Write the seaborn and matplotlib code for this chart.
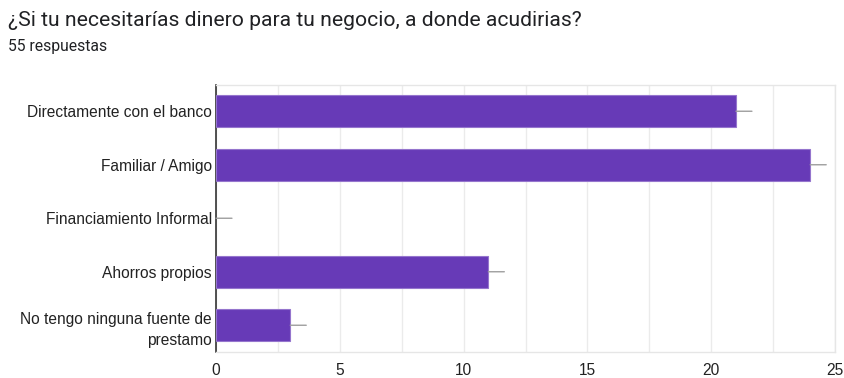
import matplotlib
matplotlib.use("Agg")
import matplotlib.pyplot as plt
import seaborn as sns
import pandas as pd

categories = ["Directamente con el banco", "Familiar / Amigo", "Financiamiento Informal",
              "Ahorros propios", "No tengo ninguna fuente de\nprestamo"]
counts = [21, 24, 0, 11, 3]
x_ticks = [0, 5, 10, 15, 20, 25]
title = "¿Si tu necesitarías dinero para tu negocio, a donde acudirias?"
subtitle = "55 respuestas"

sns.set_theme(style="white")
plt.rcParams["font.family"] = ["Liberation Sans", "DejaVu Sans"]

df = pd.DataFrame({"cat": categories, "n": counts})

fig = plt.figure(figsize=(8.44, 3.78), dpi=100)
ax = fig.add_axes([216/844, 1-352/378, (835-216)/844, (352-84.5)/378])

sns.barplot(data=df, x="n", y="cat", orient="h", color="#673ab7", saturation=1,
            width=0.6, edgecolor="#9575cd", linewidth=0.8, ax=ax, zorder=3)
for p in ax.patches:
    if p.get_width() == 0:
        p.set_linewidth(0)

for i, v in enumerate(counts):
    ax.annotate("", xy=(v, i), xytext=(11.5, 0), textcoords="offset points",
                arrowprops=dict(arrowstyle="-", color="#9e9e9e", lw=1.0,
                                shrinkA=0, shrinkB=0), zorder=4)

ax.set_xlim(0, 25)
ax.set_ylim(4.5, -0.5)
ax.set_xticks(x_ticks)
ax.set_xticklabels([str(t) for t in x_ticks])
ax.set_xticks([2.5, 7.5, 12.5, 17.5, 22.5], minor=True)
ax.grid(axis="x", which="both", color="#ebebeb", lw=1, zorder=0)
ax.set_axisbelow(True)
ax.set_xlabel("")
ax.set_ylabel("")
ax.tick_params(axis="both", length=0, labelsize=11.2, colors="#222222")
ax.tick_params(axis="y", pad=3)
ax.tick_params(axis="x", pad=8)
for lab in ax.get_yticklabels():
    lab.set_linespacing(1.5)
for s in ["top", "right", "bottom"]:
    ax.spines[s].set_color("#e6e6e6")
    ax.spines[s].set_linewidth(1)
ax.spines["left"].set_color("#333333")
ax.spines["left"].set_linewidth(1.2)

fig.text(8/844, 1-20/378, title, fontsize=15.2, color="#202124", va="center", ha="left",
         family=["Roboto", "DejaVu Sans"])
fig.text(8/844, 1-47/378, subtitle, fontsize=11.3, color="#202124", va="center", ha="left",
         family=["Roboto", "DejaVu Sans"])

fig.savefig("out.png", dpi=100)
